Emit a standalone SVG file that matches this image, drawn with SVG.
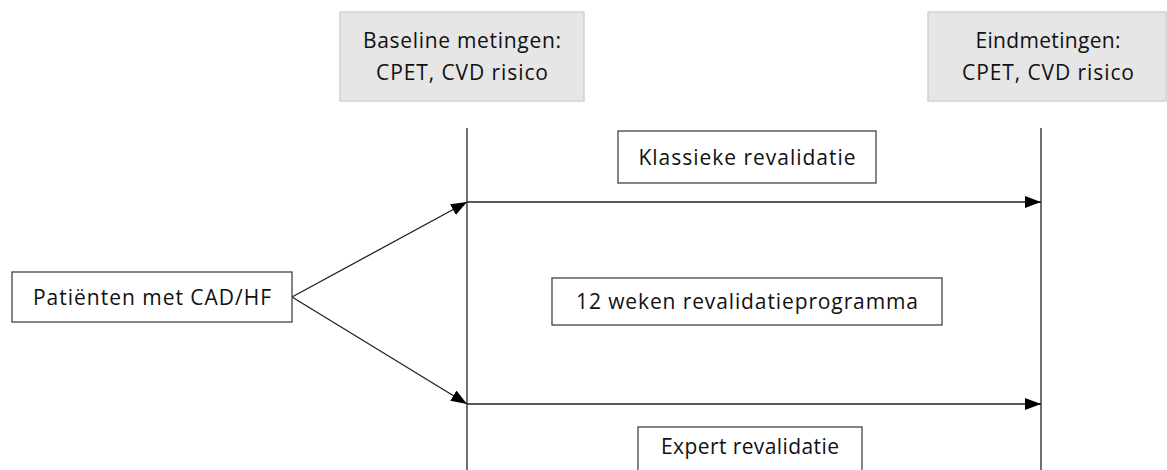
<svg xmlns="http://www.w3.org/2000/svg" width="1167" height="470" viewBox="0 0 1167 470">
<style>
.gray{fill:#e6e6e6;stroke:#d2d2d2;stroke-width:1.5}
.box{fill:#fff;stroke:#444;stroke-width:1.3}
.t{font-family:"Open Sans",Lato,"Liberation Sans",sans-serif;font-size:21px;fill:#111;text-anchor:middle}
.ln{stroke:#222;stroke-width:1.3;fill:none}
</style>
<defs>
<marker id="ah" viewBox="0 0 16 12" refX="16" refY="6" markerWidth="16" markerHeight="12" markerUnits="userSpaceOnUse" orient="auto">
<path d="M0,0 L16,6 L0,12 Z" fill="#000"/>
</marker>
</defs>
<rect width="1167" height="470" fill="#fff"/>
<g id="baseline">
<rect class="gray" x="340" y="12" width="244" height="89"/>
<text class="t" x="462" y="48" textLength="198">Baseline metingen:</text>
<text class="t" x="462" y="80" textLength="172">CPET, CVD risico</text>
</g>
<g id="eind">
<rect class="gray" x="928" y="12" width="238" height="89"/>
<text class="t" x="1048" y="48" textLength="145">Eindmetingen:</text>
<text class="t" x="1048" y="80" textLength="172">CPET, CVD risico</text>
</g>
<g id="connectors">
<line class="ln" x1="467" y1="128" x2="467" y2="470"/>
<line class="ln" x1="1041" y1="128" x2="1041" y2="470"/>
<line class="ln" x1="292" y1="297" x2="467" y2="202" marker-end="url(#ah)"/>
<line class="ln" x1="292" y1="297" x2="467" y2="404" marker-end="url(#ah)"/>
<line class="ln" x1="467" y1="202" x2="1041" y2="202" marker-end="url(#ah)"/>
<line class="ln" x1="467" y1="404" x2="1041" y2="404" marker-end="url(#ah)"/>
</g>
<g id="patienten">
<rect class="box" x="12" y="272" width="280" height="50"/>
<text class="t" x="152" y="305" textLength="238">Patiënten met CAD/HF</text>
</g>
<g id="klassieke">
<rect class="box" x="618" y="131" width="258" height="52"/>
<text class="t" x="747" y="165" textLength="217">Klassieke revalidatie</text>
</g>
<g id="weken">
<rect class="box" x="552" y="278" width="390" height="47"/>
<text class="t" x="747" y="309" textLength="342">12 weken revalidatieprogramma</text>
</g>
<g id="expert">
<rect class="box" x="638" y="427" width="224" height="50"/>
<text class="t" x="750" y="454" textLength="178">Expert revalidatie</text>
</g>
</svg>
